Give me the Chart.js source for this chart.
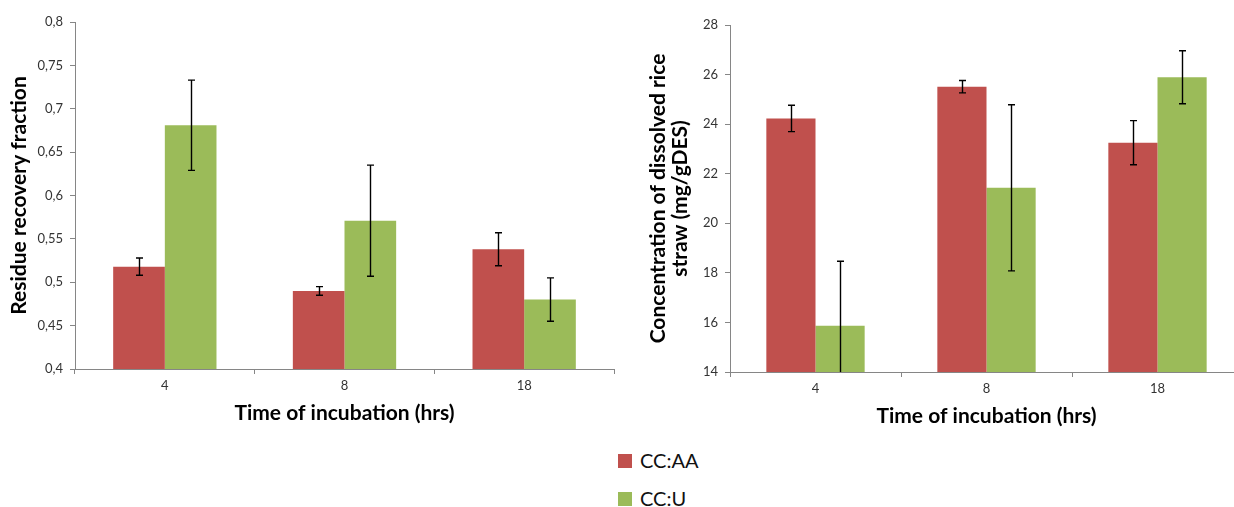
<!DOCTYPE html>
<html>
<head>
<meta charset="utf-8">
<script src="https://cdn.jsdelivr.net/npm/chart.js@4.4.1/dist/chart.umd.min.js"></script>
<style>
  html, body { margin: 0; padding: 0; background: #fff; overflow: hidden; width: 1234px; height: 507px; }
  .pane { position: absolute; top: 0; }
  #left { left: 0; width: 620px; height: 440px; }
  #right { left: 620px; width: 640px; height: 440px; }
  .legend { position: absolute; left: 618px; font-family: Lato, "Open Sans", sans-serif; font-size: 20px; color: #111; }
  .legend .item { position: absolute; left: 0; white-space: nowrap; height: 20px; line-height: 20px; }
  .legend .sw { position: absolute; left: 0; top: 3px; width: 14px; height: 14px; }
  .legend .tx { position: absolute; left: 22px; top: -1px; }
</style>
</head>
<body>
<div class="pane" id="left"><canvas id="c1" width="620" height="440"></canvas></div>
<div class="pane" id="right"><canvas id="c2" width="640" height="440"></canvas></div>
<div class="legend" id="legend"></div>
<script>
// Incubation times (hours)
const categories = ['4', '8', '18'];
const seriesNames = ['CC:AA', 'CC:U'];
const seriesColors = ['#C0504D', '#9BBB59'];

// Residue recovery fraction
const recoveryAA = [0.518, 0.490, 0.538];
const recoveryU = [0.681, 0.571, 0.480];
const recoveryAAErr = [0.010, 0.005, 0.019];
const recoveryUErr = [0.052, 0.064, 0.025];

// Concentration of dissolved rice straw (mg/gDES)
const concAA = [24.23, 25.51, 23.25];
const concU = [15.87, 21.43, 25.89];
const concAAErr = [0.53, 0.25, 0.89];
const concUErr = [2.6, 3.35, 1.07];

// Axis tick labels
const recoveryTickValues = [0.4, 0.45, 0.5, 0.55, 0.6, 0.65, 0.7, 0.75, 0.8];
const recoveryTickLabels = ['0,4', '0,45', '0,5', '0,55', '0,6', '0,65', '0,7', '0,75', '0,8'];
const concTickValues = [14, 16, 18, 20, 22, 24, 26, 28];
const concTickLabels = ['14', '16', '18', '20', '22', '24', '26', '28'];

const AXIS_GREY = '#868686';
const TICK_FONT = { family: 'Lato, "Open Sans", sans-serif', size: 13 };
const TITLE_FONT = { family: 'Lato, "Open Sans", sans-serif', size: 21, weight: 'bold', lineHeight: 1.07 };

// Draws vertical error bars with caps on top of each bar
const errorBars = {
  id: 'errorBars',
  afterDatasetsDraw(chart) {
    const { ctx, chartArea } = chart;
    const y = chart.scales.y;
    ctx.save();
    ctx.beginPath();
    ctx.rect(chartArea.left, chartArea.top - 20, chartArea.right - chartArea.left, chartArea.bottom - chartArea.top + 20);
    ctx.clip();
    ctx.strokeStyle = '#000';
    ctx.lineWidth = 1.4;
    chart.data.datasets.forEach((ds, di) => {
      const meta = chart.getDatasetMeta(di);
      meta.data.forEach((bar, i) => {
        const v = ds.data[i], e = ds.errors[i];
        const top = y.getPixelForValue(v + e);
        const bot = y.getPixelForValue(v - e);
        const x = Math.round(bar.x) + 0.5;
        const cap = 3.5;
        ctx.beginPath();
        ctx.moveTo(x, top); ctx.lineTo(x, bot);
        ctx.moveTo(x - cap, top); ctx.lineTo(x + cap, top);
        if (v - e >= y.min) { ctx.moveTo(x - cap, bot); ctx.lineTo(x + cap, bot); }
        ctx.stroke();
      });
    });
    ctx.restore();
  }
};

function makeChart(canvasId, cfg) {
  const datasets = cfg.values.map((vals, k) => ({
    label: seriesNames[k],
    data: vals,
    errors: cfg.errors[k],
    backgroundColor: seriesColors[k],
    borderWidth: 0,
    categoryPercentage: 0.575,
    barPercentage: 1.0
  }));
  return new Chart(document.getElementById(canvasId), {
    type: 'bar',
    data: { labels: categories, datasets },
    plugins: [errorBars],
    options: {
      responsive: false,
      animation: false,
      layout: { padding: cfg.padding },
      plugins: { legend: { display: false }, tooltip: { enabled: false } },
      scales: {
        x: {
          afterFit(s) { s.height = cfg.xHeight; },
          grid: { display: true, offset: true, drawOnChartArea: false, tickLength: 5, color: AXIS_GREY },
          border: { display: true, color: AXIS_GREY, width: 1 },
          ticks: { font: TICK_FONT, color: '#333', padding: 4, maxRotation: 0 },
          title: { display: true, text: 'Time of incubation (hrs)', font: TITLE_FONT, color: '#000',
                   padding: { top: 0, bottom: cfg.xTitlePad } }
        },
        y: {
          min: cfg.min, max: cfg.max,
          afterFit(s) { s.width = cfg.yWidth; },
          afterBuildTicks(s) { s.ticks = cfg.tickValues.map(v => ({ value: v })); },
          grid: { display: true, drawOnChartArea: false, tickLength: 5, color: AXIS_GREY },
          border: { display: true, color: AXIS_GREY, width: 1 },
          ticks: { font: TICK_FONT, color: '#333', padding: 7,
                   callback: (v, i) => cfg.tickLabels[i] },
          title: { display: true, text: cfg.yTitle, font: TITLE_FONT, color: '#000',
                   padding: { top: cfg.yTitlePad, bottom: 0 } }
        }
      }
    }
  });
}

makeChart('c1', {
  values: [recoveryAA, recoveryU],
  errors: [recoveryAAErr, recoveryUErr],
  min: 0.4, max: 0.8,
  tickValues: recoveryTickValues, tickLabels: recoveryTickLabels,
  yTitle: 'Residue recovery fraction',
  padding: { top: 22, right: 6, left: 0, bottom: 0 },
  yWidth: 75, xHeight: 71, xTitlePad: 16, yTitlePad: 8
});

makeChart('c2', {
  values: [concAA, concU],
  errors: [concAAErr, concUErr],
  min: 14, max: 28,
  tickValues: concTickValues, tickLabels: concTickLabels,
  yTitle: ['Concentration of dissolved rice', 'straw (mg/gDES)'],
  padding: { top: 25, right: 17, left: 0, bottom: 0 },
  yWidth: 110, xHeight: 68, xTitlePad: 13, yTitlePad: 27
});

// Legend below the two panels
const legend = document.getElementById('legend');
const legendTops = [451, 489];
seriesNames.forEach((name, k) => {
  const item = document.createElement('div');
  item.className = 'item';
  item.style.top = legendTops[k] + 'px';
  item.innerHTML = '<span class="sw" style="background:' + seriesColors[k] + '"></span><span class="tx">' + name + '</span>';
  legend.appendChild(item);
});
</script>
</body>
</html>
